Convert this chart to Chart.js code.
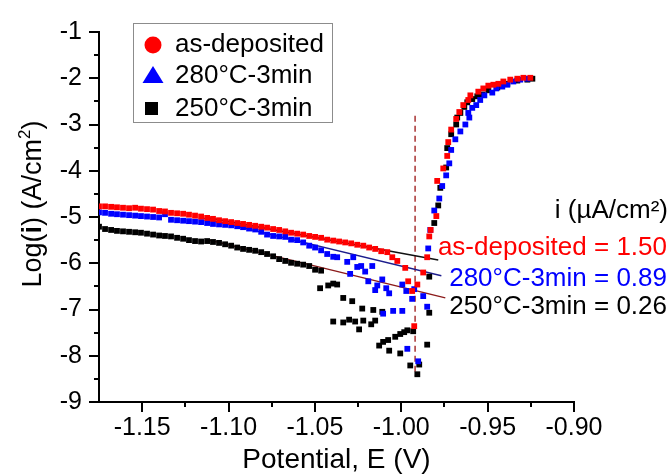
<!DOCTYPE html>
<html>
<head>
<meta charset="utf-8">
<title>Tafel plot</title>
<script src="https://cdn.jsdelivr.net/npm/chart.js@4.4.1/dist/chart.umd.min.js"></script>
<style>
  html, body { margin: 0; padding: 0; background: #fff; }
  #wrap { width: 671px; height: 476px; }
</style>
</head>
<body>
<div id="wrap"><canvas id="tafel" width="671" height="476"></canvas></div>
<script>
// potential E (V) and log(i)
const eAsDep = [
  -1.175, -1.1715, -1.1680, -1.1646, -1.1611, -1.1576, -1.1541, -1.1507, -1.1472, -1.1437,
  -1.1402, -1.1368, -1.1333, -1.1298, -1.1263, -1.1229, -1.1194, -1.1159, -1.1124, -1.1090,
  -1.1055, -1.1020, -1.0985, -1.0950, -1.0916, -1.0881, -1.0846, -1.0811, -1.0777, -1.0742,
  -1.0707, -1.0672, -1.0638, -1.0603, -1.0568, -1.0533, -1.0499, -1.0464, -1.0429, -1.0394,
  -1.0360, -1.0325, -1.0290, -1.0255, -1.0220, -1.0186, -1.0151, -1.0116, -1.0081,
  -1.0052, -1.0023, -0.9977, -0.9960, -0.9937, -0.9925, -0.9907, -0.9873, -0.9850, -0.9838, -0.9830,
  -0.9797, -0.9792, -0.9757, -0.9734, -0.9728, -0.9711, -0.9682, -0.9664, -0.9641, -0.9612,
  -0.9600, -0.9554, -0.9525, -0.9496, -0.9467, -0.9438, -0.9409, -0.9369, -0.9328, -0.9293, -0.9253
];
const logiAsDep = [
  -4.77, -4.77, -4.78, -4.79, -4.80, -4.81, -4.80, -4.82, -4.83, -4.84,
  -4.87, -4.88, -4.91, -4.92, -4.93, -4.95, -4.97, -4.99, -5.02, -5.04,
  -5.07, -5.09, -5.11, -5.13, -5.15, -5.17, -5.19, -5.21, -5.23, -5.26,
  -5.28, -5.31, -5.34, -5.36, -5.38, -5.41, -5.43, -5.45, -5.49, -5.51,
  -5.53, -5.55, -5.57, -5.60, -5.62, -5.66, -5.69, -5.74, -5.76,
  -5.87, -5.95, -6.10, -6.39, -6.60, -7.36, -6.46, -6.20, -5.87, -5.42, -5.28,
  -4.98, -4.22, -3.95, -3.68, -3.38, -3.11, -2.88, -2.73, -2.58, -2.47,
  -2.37, -2.29, -2.22, -2.16, -2.14, -2.12, -2.07, -2.03, -2.01, -1.99, -1.99
];

const e280 = [
  -1.175, -1.1715, -1.1680, -1.1646, -1.1611, -1.1576, -1.1541, -1.1507, -1.1472, -1.1437,
  -1.1402, -1.1368, -1.1333, -1.1298, -1.1263, -1.1229, -1.1194, -1.1159, -1.1124, -1.1090,
  -1.1055, -1.1020, -1.0985, -1.0950, -1.0916, -1.0881, -1.0846, -1.0811, -1.0777, -1.0742,
  -1.0707, -1.0672, -1.0638, -1.0603, -1.0568, -1.0533, -1.0499, -1.0464, -1.0429, -1.0394,
  -1.0371, -1.0313, -1.0296, -1.0278, -1.0255, -1.0232, -1.0209, -1.0191, -1.0168, -1.0151,
  -1.0139, -1.0110, -1.0105, -1.0087, -1.0070, -1.0047, -0.9994, -0.9994, -0.9971, -0.9965,
  -0.9937, -0.9925, -0.9902, -0.9873, -0.9850, -0.9844,
  -0.9832, -0.9809, -0.9780, -0.9763, -0.9740, -0.9722, -0.9711, -0.9687, -0.9658, -0.9629,
  -0.9606, -0.9612, -0.9589, -0.9566, -0.9543, -0.9519, -0.9473, -0.9450, -0.9415, -0.9386,
  -0.9351, -0.9311, -0.9270
];
const logi280 = [
  -4.90, -4.91, -4.93, -4.94, -4.95, -4.96, -4.97, -4.98, -4.99, -5.00,
  -5.01, -4.94, -5.06, -5.07, -5.08, -5.09, -5.10, -5.11, -5.13, -5.15,
  -5.16, -5.17, -5.18, -5.20, -5.22, -5.25, -5.27, -5.32, -5.38, -5.41,
  -5.42, -5.43, -5.49, -5.50, -5.55, -5.62, -5.66, -5.72, -5.80, -5.86,
  -5.87, -5.97, -6.23, -5.87, -6.08, -6.06, -6.18, -6.39, -6.06, -6.58,
  -6.48, -6.35, -7.09, -6.54, -6.65, -7.03, -7.03, -6.46, -6.60, -7.85,
  -6.77, -6.56, -8.12, -6.71, -6.94, -5.68,
  -5.28, -4.86, -4.60, -4.33, -4.10, -3.84, -3.55, -3.32, -3.15, -3.00,
  -2.85, -2.75, -2.64, -2.58, -2.47, -2.37, -2.31, -2.22, -2.18, -2.14,
  -2.07, -2.03, -2.01
];

const e250 = [
  -1.175, -1.1715, -1.1680, -1.1646, -1.1611, -1.1576, -1.1541, -1.1507, -1.1472, -1.1437,
  -1.1402, -1.1368, -1.1333, -1.1298, -1.1263, -1.1229, -1.1194, -1.1159, -1.1124, -1.1090,
  -1.1055, -1.1020, -1.0985, -1.0950, -1.0916, -1.0881, -1.0846, -1.0811, -1.0777, -1.0742,
  -1.0707, -1.0672, -1.0638, -1.0603, -1.0568, -1.0533, -1.0499, -1.0464,
  -1.0470, -1.0423, -1.0394, -1.0394, -1.0371, -1.0336, -1.0336, -1.0302, -1.0284, -1.0267,
  -1.0244, -1.0226, -1.0220, -1.0174, -1.0162, -1.0151, -1.0128, -1.0110, -1.0105, -1.0076,
  -1.0070, -1.0035, -1.0006, -1.0006, -0.9983, -0.9965, -0.9948, -0.9931, -0.9907, -0.9896,
  -0.9850, -0.9838, -0.9838,
  -0.9809, -0.9786, -0.9774, -0.9740, -0.9734, -0.9711, -0.9682, -0.9676, -0.9658, -0.9635,
  -0.9618, -0.9589, -0.9560, -0.9531, -0.9496, -0.9444, -0.9386, -0.9328, -0.9270, -0.9241
];
const logi250 = [
  -5.21, -5.26, -5.28, -5.30, -5.31, -5.32, -5.33, -5.34, -5.36, -5.38,
  -5.40, -5.41, -5.42, -5.45, -5.47, -5.50, -5.52, -5.53, -5.52, -5.54,
  -5.56, -5.59, -5.62, -5.66, -5.69, -5.71, -5.73, -5.76, -5.80, -5.85,
  -5.91, -5.95, -5.99, -6.01, -6.03, -6.06, -6.14, -6.16,
  -6.54, -6.48, -6.44, -7.26, -6.46, -6.75, -7.28, -7.22, -6.82, -7.26,
  -7.43, -6.98, -7.24, -7.32, -7.01, -7.24, -7.78, -7.05, -7.70, -7.66,
  -7.89, -7.59, -7.95, -7.53, -7.49, -7.45, -8.21, -7.47, -8.40, -8.19,
  -7.76, -7.07, -6.29,
  -5.13, -4.75, -4.37, -3.93, -3.51, -3.21, -3.00, -2.85, -2.75, -2.62,
  -2.52, -2.45, -2.39, -2.35, -2.26, -2.20, -2.12, -2.05, -2.03, -2.01
];

// Tafel fit lines (start / end)
const fitAsDepE = [-1.1124, -0.9786];
const fitAsDepLogi = [-5.01, -5.93];
const fit280E = [-1.1153, -0.9768];
const fit280Logi = [-5.02, -6.27];
const fit250E = [-1.1124, -0.9745];
const fit250Logi = [-5.49, -6.75];
// corrosion potential marker
const ecorrE = [-0.992, -0.992];
const ecorrLogi = [-2.81, -8.44];

const seriesNames = ['as-deposited', '280°C-3min', '250°C-3min'];
const icorrValues = ['1.50', '0.89', '0.26'];

const xMajor = [-1.15, -1.10, -1.05, -1.00, -0.95, -0.90];
const xMinor = [-1.125, -1.075, -1.025, -0.975, -0.925];
const yMajor = [-9, -8, -7, -6, -5, -4, -3, -2, -1];
const yMinor = [-8.5, -7.5, -6.5, -5.5, -4.5, -3.5, -2.5, -1.5];

const FONT = '"Liberation Sans", Arial, sans-serif';

function toPoints(xs, ys) {
    return xs.map(function(x, i) { return {x: x, y: ys[i]}; });
}

function fitLine(xs, ys, color) {
    return {
        type: 'line',
        data: toPoints(xs, ys),
        borderColor: color,
        borderWidth: 1.4,
        pointRadius: 0,
        showLine: true,
        fill: false
    };
}

function markerSet(label, xs, ys, color, legendShape) {
    return {
        label: label,
        data: toPoints(xs, ys),
        pointStyle: 'rect',
        pointRadius: 4.1,
        pointBorderWidth: 0,
        backgroundColor: color,
        borderColor: color,
        legendShape: legendShape
    };
}

// ticks, legend box, texts
var decorPlugin = {
    id: 'decor',
    afterDraw: function(chart) {
        const ctx = chart.ctx;
        const xs = chart.scales.x, ys = chart.scales.y;
        const area = chart.chartArea;

        ctx.save();
        ctx.strokeStyle = '#000';
        ctx.lineWidth = 2;
        ctx.beginPath();
        xMajor.forEach(function(v) {
            const px = Math.round(xs.getPixelForValue(v));
            ctx.moveTo(px, area.bottom); ctx.lineTo(px, area.bottom + 10);
        });
        xMinor.forEach(function(v) {
            const px = Math.round(xs.getPixelForValue(v));
            ctx.moveTo(px, area.bottom); ctx.lineTo(px, area.bottom + 5);
        });
        yMajor.forEach(function(v) {
            const py = Math.round(ys.getPixelForValue(v));
            ctx.moveTo(area.left, py); ctx.lineTo(area.left - 10, py);
        });
        yMinor.forEach(function(v) {
            const py = Math.round(ys.getPixelForValue(v));
            ctx.moveTo(area.left, py); ctx.lineTo(area.left - 5, py);
        });
        ctx.stroke();

        // legend
        ctx.strokeStyle = '#8c8c8c';
        ctx.lineWidth = 1;
        ctx.strokeRect(133.5, 23.5, 199, 99);
        const rows = [44, 75, 108];
        ctx.font = '26px ' + FONT;
        ctx.textBaseline = 'middle';
        ctx.textAlign = 'left';
        [0, 1, 2].forEach(function(i) {
            const ds = chart.data.datasets[i];
            const cy = rows[i];
            ctx.fillStyle = ds.backgroundColor;
            ctx.beginPath();
            if (ds.legendShape === 'circle') {
                ctx.arc(153, cy + 1, 8.5, 0, Math.PI * 2);
            } else if (ds.legendShape === 'triangle') {
                ctx.moveTo(153, cy - 9); ctx.lineTo(163.5, cy + 8); ctx.lineTo(142.5, cy + 8); ctx.closePath();
            } else {
                ctx.rect(145, cy - 6, 13, 13);
            }
            ctx.fill();
            ctx.fillStyle = '#000';
            ctx.fillText(ds.label, 175, cy + 1);
        });

        // icorr annotation
        ctx.textAlign = 'right';
        ctx.textBaseline = 'alphabetic';
        ctx.fillStyle = '#000';
        ctx.fillText('i (µA/cm²)', 668, 218);
        const colors = ['#ff0000', '#0000ff', '#000000'];
        const bases = [255, 286, 314];
        [0, 1, 2].forEach(function(i) {
            ctx.fillStyle = colors[i];
            ctx.fillText(seriesNames[i] + ' = ' + icorrValues[i], 667, bases[i]);
        });

        // axis titles
        ctx.fillStyle = '#000';
        ctx.textAlign = 'center';
        ctx.font = '28px ' + FONT;
        ctx.fillText('Potential, E (V)', (area.left + area.right) / 2, 468);

        ctx.translate(41, 204);
        ctx.rotate(-Math.PI / 2);
        ctx.textAlign = 'left';
        const parts = [
            {t: 'Log(', f: '27px ' + FONT, dy: 0},
            {t: 'i', f: 'bold 27px ' + FONT, dy: 0},
            {t: ') (A/cm', f: '27px ' + FONT, dy: 0},
            {t: '2', f: '17px ' + FONT, dy: -11},
            {t: ')', f: '27px ' + FONT, dy: 0}
        ];
        var total = 0;
        parts.forEach(function(p) { ctx.font = p.f; total += ctx.measureText(p.t).width; });
        var cx = -total / 2;
        parts.forEach(function(p) {
            ctx.font = p.f;
            ctx.fillText(p.t, cx, p.dy);
            cx += ctx.measureText(p.t).width;
        });
        ctx.restore();
    }
};

var chart;
function initChart() {
    const canvas = document.getElementById('tafel');

    chart = new Chart(canvas, {
        type: 'scatter',
        data: {
            datasets: [
                markerSet(seriesNames[0], eAsDep, logiAsDep, '#ff0000', 'circle'),
                markerSet(seriesNames[1], e280, logi280, '#0000ff', 'triangle'),
                markerSet(seriesNames[2], e250, logi250, '#000000', 'rect'),
                fitLine(fitAsDepE, fitAsDepLogi, '#111111'),
                fitLine(fit280E, fit280Logi, '#1c1c8c'),
                fitLine(fit250E, fit250Logi, '#8b1a1a'),
                {
                    type: 'line',
                    data: toPoints(ecorrE, ecorrLogi),
                    borderColor: '#a83232',
                    borderWidth: 1.5,
                    borderDash: [6, 4],
                    pointRadius: 0,
                    showLine: true,
                    fill: false
                }
            ]
        },
        options: {
            responsive: false,
            animation: false,
            devicePixelRatio: 1,
            layout: { padding: { left: 0, right: 97, top: 22, bottom: 0 } },
            plugins: {
                legend: { display: false },
                tooltip: { enabled: false }
            },
            scales: {
                x: {
                    type: 'linear',
                    min: -1.175,
                    max: -0.90,
                    grid: { display: false, drawTicks: false },
                    border: { display: true, color: '#000', width: 2 },
                    afterBuildTicks: function(scale) {
                        scale.ticks = xMajor.map(function(v) { return {value: v}; });
                    },
                    afterFit: function(scale) { scale.height = 74; },
                    ticks: {
                        color: '#000',
                        font: { family: FONT, size: 25 },
                        padding: 11,
                        maxRotation: 0,
                        autoSkip: false,
                        callback: function(v) { return Number(v).toFixed(2); }
                    }
                },
                y: {
                    type: 'linear',
                    min: -9,
                    max: -1,
                    grid: { display: false, drawTicks: false },
                    border: { display: true, color: '#000', width: 2 },
                    afterBuildTicks: function(scale) {
                        scale.ticks = yMajor.map(function(v) { return {value: v}; });
                    },
                    afterFit: function(scale) { scale.width = 99; },
                    ticks: {
                        color: '#000',
                        font: { family: FONT, size: 25 },
                        padding: 17,
                        autoSkip: false,
                        callback: function(v) { return String(v); }
                    }
                }
            }
        },
        plugins: [decorPlugin]
    });
}

document.addEventListener('DOMContentLoaded', function() {
    initChart();
});
</script>
</body>
</html>
